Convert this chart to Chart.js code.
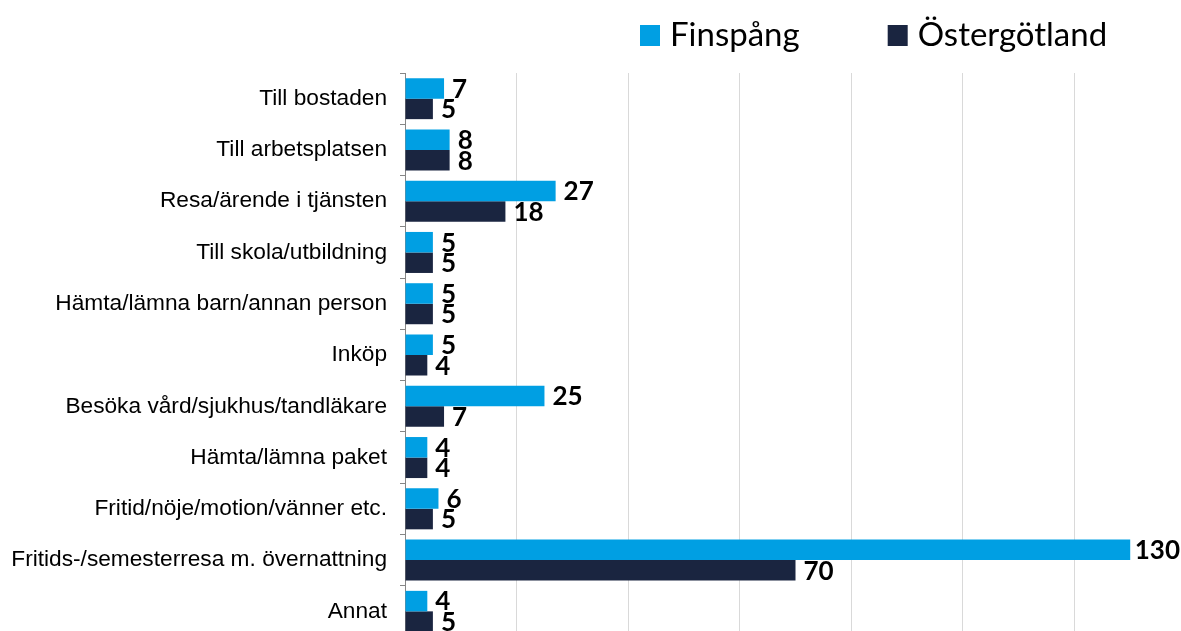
<!DOCTYPE html>
<html>
<head>
<meta charset="utf-8">
<script src="https://cdn.jsdelivr.net/npm/chart.js@4"></script>
<style>
body { margin: 0; overflow: hidden; background: #fff; }
</style>
</head>
<body>
<canvas id="canvas" width="1186" height="640"></canvas>
<script>
const categories = [
  'Till bostaden',
  'Till arbetsplatsen',
  'Resa/ärende i tjänsten',
  'Till skola/utbildning',
  'Hämta/lämna barn/annan person',
  'Inköp',
  'Besöka vård/sjukhus/tandläkare',
  'Hämta/lämna paket',
  'Fritid/nöje/motion/vänner etc.',
  'Fritids-/semesterresa m. övernattning',
  'Annat'
];
const finspang = [7, 8, 27, 5, 5, 5, 25, 4, 6, 130, 4];
const ostergotland = [5, 8, 18, 5, 5, 4, 7, 4, 5, 70, 5];
const seriesNames = ['Finspång', 'Östergötland'];
const seriesColors = ['#009fe3', '#1a2540'];
const xMax = 140;
const xStep = 20;

// value labels to the right of each bar, kept inside the visible page
const valueLabels = {
  id: 'valueLabels',
  afterDatasetsDraw(chart) {
    const ctx = chart.ctx;
    ctx.save();
    ctx.font = 'bold 26px Lato';
    ctx.fillStyle = '#000';
    ctx.textBaseline = 'middle';
    chart.data.datasets.forEach((ds, i) => {
      chart.getDatasetMeta(i).data.forEach((bar, j) => {
        const txt = String(ds.data[j]);
        const w = ctx.measureText(txt).width;
        const x = Math.min(bar.x + 8, 1180 - w);
        ctx.fillText(txt, x, bar.y + 1);
      });
    });
    ctx.restore();
  }
};

// legend drawn at the top right
const topLegend = {
  id: 'topLegend',
  afterDraw(chart) {
    const ctx = chart.ctx;
    ctx.save();
    ctx.font = '33px Lato';
    ctx.textBaseline = 'alphabetic';
    let x = 640;
    chart.data.datasets.forEach((ds) => {
      ctx.fillStyle = ds.backgroundColor;
      ctx.fillRect(x, 25, 20, 21);
      ctx.fillStyle = '#000';
      ctx.fillText(ds.label, x + 30, 46);
      x += 30 + ctx.measureText(ds.label).width + 88;
    });
    ctx.restore();
  }
};

const ctx = document.getElementById('canvas').getContext('2d');

new Chart(ctx, {
  type: 'bar',
  data: {
    labels: categories,
    datasets: [
      { label: seriesNames[0], data: finspang, backgroundColor: seriesColors[0] },
      { label: seriesNames[1], data: ostergotland, backgroundColor: seriesColors[1] }
    ]
  },
  options: {
    indexAxis: 'y',
    responsive: false,
    animation: false,
    layout: { padding: { top: 73, bottom: 3, left: 0, right: 0 } },
    datasets: { bar: { categoryPercentage: 0.8, barPercentage: 1.0 } },
    plugins: {
      legend: { display: false },
      tooltip: { enabled: false }
    },
    scales: {
      x: {
        min: 0,
        max: xMax,
        afterFit(scale) { scale.height = 0; },
        ticks: { display: false, stepSize: xStep },
        grid: { color: '#d9d9d9', drawTicks: false },
        border: { display: false }
      },
      y: {
        afterFit(scale) {
          scale.width = 405;
          scale.paddingTop = 0;
          scale.paddingBottom = 0;
        },
        ticks: {
          color: '#000',
          font: { family: 'Liberation Sans', size: 22.7 },
          padding: 13
        },
        grid: {
          offset: true,
          drawOnChartArea: false,
          tickLength: 5,
          color: '#868686'
        },
        border: { color: '#868686' }
      }
    }
  },
  plugins: [valueLabels, topLegend]
});
</script>
</body>
</html>
